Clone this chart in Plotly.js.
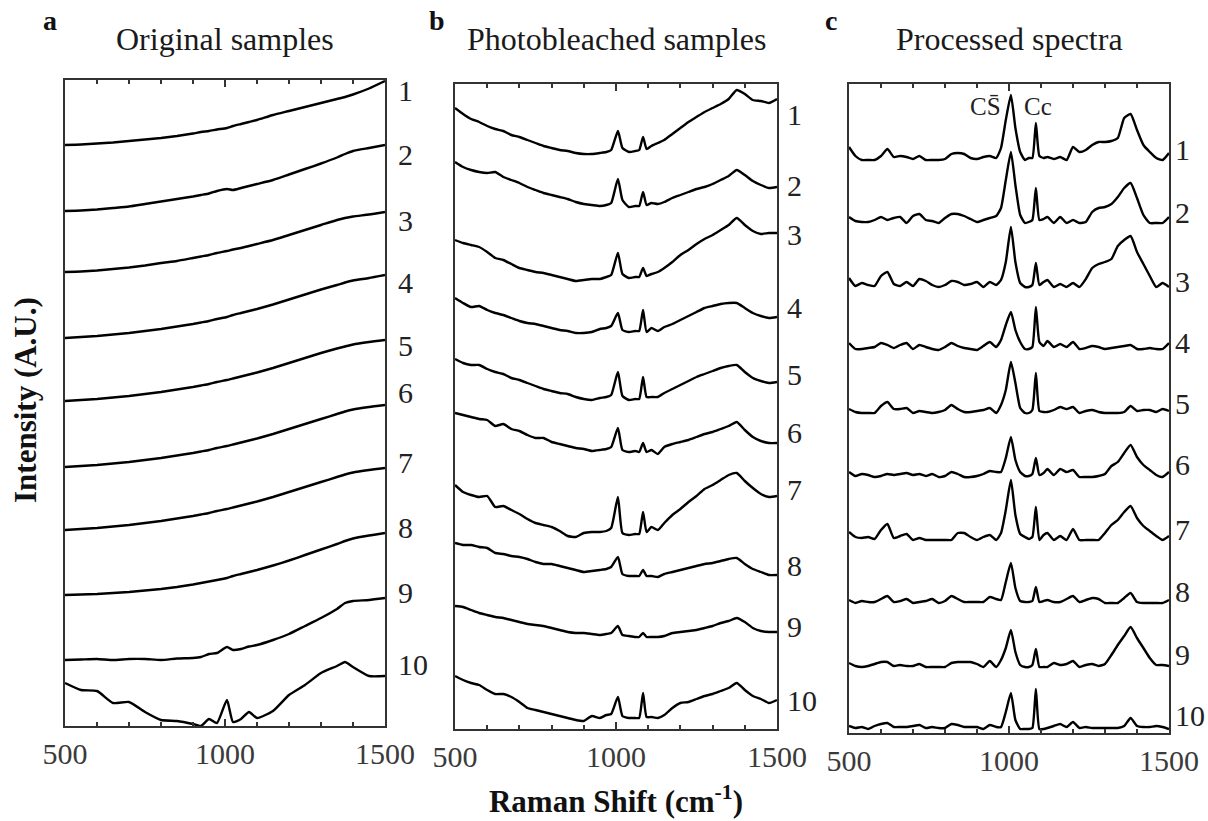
<!DOCTYPE html>
<html>
<head>
<meta charset="utf-8">
<script src="https://cdn.plot.ly/plotly-3.0.1.min.js"></script>
<style>html,body{margin:0;padding:0;background:#fff;}#chart{width:1208px;height:821px;}</style>
</head>
<body>
<div id="chart"></div>
<script>
// ---------- DATA ----------
// Raman shift grids (cm-1)
const xA = [500,550,600,650,700,750,800,850,900,925,950,975,1006,1025,1050,1075,1100,1150,1200,1250,1300,1350,1375,1400,1450,1500];
const xB = [500,525,550,575,600,625,650,675,700,725,750,775,800,825,850,875,900,925,950,970,985,1006,1020,1040,1060,1072,1084,1095,1110,1130,1150,1175,1200,1225,1250,1275,1300,1325,1350,1375,1400,1425,1450,1475,1500];
const xC = [500,520,540,560,580,600,620,640,660,680,700,720,740,760,780,800,820,840,860,880,900,920,940,960,
            975,990,1006,1020,1035,1050,1062,1073,1084,1095,1108,1120,
            1140,1160,1180,1200,1220,1240,1260,1280,1300,1320,1340,1360,1380,1400,1420,1440,1460,1480,1500];

// a: original samples (stacked intensity, A.U.)
const a1 = [582,582.5,583.5,584.5,586,587.5,589,591,593.5,595,596,597.5,599,601,603,605,607,612,616,620,624,628,630,632.5,638.5,646];
const a2 = [516,516.5,517.5,519,520.5,523,525.5,528,530.5,532,533.5,536,538,537,539,541,543,547,552.5,558,563.5,569.5,573,576,579,582];
const a3 = [455,455.5,456.5,458,459.5,461.5,464,466,469,470.5,472,474,476,477.5,479,481,483,487,492,497,502,507,509,510.5,512.5,515];
const a4 = [389,390,391,392.5,394,396,398,400.5,403,404.5,406,408,410,412,414,416,418,422.5,427.5,432.5,437.5,442,444.5,446.5,449,452];
const a5 = [326,327,328,329.5,331,333,335,337.5,340,341.5,343,345,347,348.5,350.5,352.5,354.5,359,364,369,374,378.5,380.5,382.5,385,387];
const a6 = [260,261,262,263.5,265,267,269,271.5,274,275.5,277,279,281,282.5,284.5,286.5,288.5,293,298,303,308,313,315.5,317.5,320,322];
const a7 = [197,198,199,200.5,202,204,206,208.5,211,212.5,214,216,218,219.5,221.5,223.5,225.5,230,235,240,245,250,252.5,254.5,257,259];
const a8 = [132,132.5,133,134,135,136.5,138,140,142.5,144,145.5,147,149,151,153,155,157,161.5,166.5,172,177.5,183,186,188.5,191.5,194];
const a9 = [67,67.5,68,67,68,68,67,68.5,69,70,73,74,80,77,78,80.5,82,87,93,101,109,118,124,126,127,129];
const a10 = [44,37,36,24,25,15,7,6,3,1,8,4,27,5,8,15,9,16,32,42,54,61,65,60,51,51];

// b: photobleached samples
const b1 = [619,613,608,605,601,598,596,592,590,587,584,581,579,577,576,574,573,573,574,575,577,596,579,575,576,577,590,578,581,584,587,593,599,605,610,615,619,623,628,637,633,627,626,624,628];
const b2 = [565,560,557,555,554,555,550,547,544,540,537,534,532,530,528,525,523,522,521,522,524,548,527,520,521,521,535,522,524,523,525,529,532,535,538,540,543,547,551,557,552,546,542,539,540];
const b3 = [487,484,482,480,475,469,467,463,459,457,455,454,452,450,448,446,447,448,448,450,452,474,453,449,450,450,459,451,453,455,459,465,472,477,483,488,492,497,502,509,502,496,493,494,494];
const b4 = [429,424,420,421,417,414,412,409,406,404,403,401,399,397,396,394,394,395,398,399,401,414,397,395,396,396,417,395,399,396,400,403,407,411,415,419,421,423,424,424,419,414,411,409,410];
const b5 = [368,364,362,362,358,355,353,349,347,344,341,338,336,334,333,330,328,327,329,330,332,355,331,327,328,328,350,330,330,330,334,338,342,346,350,353,356,359,361,362,355,349,346,344,345];
const b6 = [314,312,310,308,307,301,303,298,296,292,289,289,285,283,281,279,278,276,277,278,280,299,277,275,276,275,284,275,277,273,280,283,285,287,290,293,295,298,301,305,297,290,286,284,284];
const b7 = [242,235,232,230,231,220,221,217,213,208,204,202,200,196,191,190,194,195,195,196,199,230,194,192,193,193,215,195,200,197,204,212,218,225,231,238,242,247,252,254,246,239,233,230,231];
const b8 = [184,182,182,180,179,174,173,171,170,168,165,163,163,161,159,157,155,156,157,158,160,170,153,151,151,151,157,151,151,150,153,155,157,159,161,163,164,166,168,169,163,158,155,152,152];
const b9 = [121,120,117,114,112,110,109,107,105,103,102,101,99,97,95,94,94,93,92,93,94,101,92,91,90,90,94,90,90,90,91,94,95,96,97,99,101,104,106,109,105,99,96,95,95];
const b10 = [51,47,44,42,37,33,33,30,25,19,17,15,13,11,9,7,6,11,9,12,13,30,11,9,9,9,34,10,10,9,12,19,24,25,28,31,33,36,39,44,37,31,28,24,27];

// c: processed spectra
const c1 = [583,574,570,570,570,574,581,573,574,573,571,574,570,570,570,571,576,577,576,572,571,573,574,572,
            582,610,635,602,578,570,572,572,607,574,572,573,
            571,573,570,583,578,580,585,588,588,589,592,612,616,600,585,578,572,570,577];
const c2 = [513,509,508,508,510,513,510,512,513,507,514,516,510,509,507,512,516,516,514,511,508,510,512,514,
            522,550,578,545,515,507,508,510,542,510,511,513,
            507,513,507,510,507,508,518,522,523,526,533,542,547,532,515,507,507,507,513];
const c3 = [452,444,447,445,444,454,458,446,444,448,444,451,449,445,443,445,449,448,445,446,448,443,448,445,
            450,468,503,468,447,443,443,445,467,445,448,450,
            443,446,443,447,443,451,462,466,468,471,484,490,494,478,466,454,443,447,443];
const c4 = [387,381,381,382,383,387,385,382,385,387,381,385,383,381,380,383,387,384,382,381,380,384,388,383,
            390,405,418,400,388,381,381,383,423,388,384,389,
            383,386,383,388,381,382,384,383,381,382,383,384,385,381,381,382,381,381,387];
const c5 = [321,318,317,317,317,324,328,321,321,322,317,319,318,317,318,320,325,321,318,318,319,320,322,317,
            325,340,368,347,322,317,317,320,357,319,318,318,
            320,323,321,323,317,319,320,318,317,317,317,318,324,319,320,320,318,321,319];
const c6 = [258,254,256,255,253,254,256,255,256,257,255,256,254,256,253,254,258,256,253,253,254,256,259,258,
            258,272,293,270,258,254,254,256,272,255,257,261,
            255,261,258,260,253,253,253,254,256,264,268,277,285,273,265,260,255,253,258];
const c7 = [198,193,192,193,191,200,206,192,194,196,190,192,190,190,190,190,190,197,197,193,190,193,195,190,
            197,220,250,215,196,193,191,193,223,190,195,197,
            190,194,190,201,190,190,190,190,197,205,210,218,224,212,204,199,194,190,194];
const c8 = [130,127,129,128,128,131,134,128,129,131,127,128,129,131,127,129,134,131,128,128,128,128,133,131,
            130,148,167,142,129,128,128,129,143,128,129,130,
            128,128,131,134,128,130,132,131,127,127,127,132,137,128,127,127,127,127,130];
const c9 = [67,64,63,64,66,68,68,64,65,64,64,66,63,63,63,63,67,68,68,68,66,63,69,63,
            70,82,100,78,65,63,63,65,81,63,63,63,
            67,65,66,69,63,65,66,64,66,75,85,94,103,92,82,72,65,65,64];
const c10 = [4,2,3,1,4,6,7,3,3,3,4,5,2,3,2,2,6,5,3,3,3,1,5,3,
             3,18,37,10,1,1,1,2,41,1,1,2,
             4,6,3,8,2,3,2,2,2,2,2,4,12,4,3,3,4,3,1];

const sampleLabels = ['1','2','3','4','5','6','7','8','9','10'];
const panelTitles = ['Original samples','Photobleached samples','Processed spectra'];
const panelLetters = ['a','b','c'];
const xTickVals = [500,1000,1500];

// ---------- LAYOUT / STYLE ----------
const seriesA = [a1,a2,a3,a4,a5,a6,a7,a8,a9,a10];
const seriesB = [b1,b2,b3,b4,b5,b6,b7,b8,b9,b10];
const seriesC = [c1,c2,c3,c4,c5,c6,c7,c8,c9,c10];

// label vertical positions (A.U., in each panel's axis units)
const labelYA = [636,573,507,445,382,335,265,200,135,63];
const labelYB = [612,542,493,420,353,295,238,162,101,27];
const labelYC = [581,518,449,388,327,266,201,139,76,15];

const serif = '"Liberation Serif", "Times New Roman", serif';
const axisCol = '#333333';
const traces = [];
function addPanel(xs, ys, xa, ya) {
  ys.forEach(function (y) {
    traces.push({x: xs, y: y, xaxis: xa, yaxis: ya, type: 'scatter', mode: 'lines',
      line: {color: '#000000', width: 2.4, shape: 'spline', smoothing: 0.5}, hoverinfo: 'skip'});
  });
}
addPanel(xA, seriesA, 'x', 'y');
addPanel(xB, seriesB, 'x2', 'y2');
addPanel(xC, seriesC, 'x3', 'y3');

function xaxisDef(domain, anchor) {
  return {
    domain: domain, anchor: anchor, range: [500, 1500],
    tickmode: 'array', tickvals: xTickVals,
    ticks: 'inside', ticklen: 7, tickwidth: 2, tickcolor: axisCol,
    minor: {tickmode: 'linear', tick0: 500, dtick: 100, ticks: 'inside', ticklen: 4, tickwidth: 2, tickcolor: axisCol},
    showline: true, linecolor: axisCol, linewidth: 2, mirror: 'ticks',
    showgrid: false, zeroline: false,
    tickfont: {family: serif, size: 30, color: '#3a3a3a'},
    ticklabelstandoff: 0, fixedrange: true
  };
}
function yaxisDef(domain, anchor, range) {
  return {
    domain: domain, anchor: anchor, range: range,
    showline: true, linecolor: axisCol, linewidth: 2, mirror: true,
    ticks: '', showticklabels: false, showgrid: false, zeroline: false, fixedrange: true
  };
}

const W = 1208, H = 821;
const annotations = [];
const panelX = [[65, 385], [455, 777], [849, 1169]];
panelTitles.forEach(function (t, i) {
  annotations.push({text: t, xref: 'paper', yref: 'paper',
    x: ((panelX[i][0] + panelX[i][1]) / 2) / W, y: 1 - 39 / H,
    xanchor: 'center', yanchor: 'middle', showarrow: false,
    font: {family: serif, size: 32, color: '#1a1a1a'}});
});
const letterX = [50, 437, 831];
panelLetters.forEach(function (t, i) {
  annotations.push({text: '<b>' + t + '</b>', xref: 'paper', yref: 'paper',
    x: letterX[i] / W, y: 1 - 20 / H, xanchor: 'center', yanchor: 'middle', showarrow: false,
    font: {family: serif, size: 28, color: '#111'}});
});
function addLabels(labelY, xa, ya, shift) {
  sampleLabels.forEach(function (t, i) {
    annotations.push({text: t, xref: xa + ' domain', yref: ya, x: 1, y: labelY[i],
      xanchor: 'left', yanchor: 'middle', xshift: shift, showarrow: false,
      font: {family: serif, size: 30, color: '#222'}});
  });
}
addLabels(labelYA, 'x', 'y', 11);
addLabels(labelYB, 'x2', 'y2', 8);
addLabels(labelYC, 'x3', 'y3', 4);

annotations.push({text: 'CS\u0304', xref: 'x3', yref: 'y3', x: 980, y: 623,
  xanchor: 'right', yanchor: 'middle', showarrow: false,
  font: {family: serif, size: 25, color: '#222'}});
annotations.push({text: 'Cc', xref: 'x3', yref: 'y3', x: 1042, y: 623,
  xanchor: 'left', yanchor: 'middle', showarrow: false,
  font: {family: serif, size: 25, color: '#222'}});

annotations.push({text: '<b>Intensity (A.U.)</b>', xref: 'paper', yref: 'paper',
  x: 25 / W, y: 1 - 400 / H, xanchor: 'center', yanchor: 'middle', textangle: -90, showarrow: false,
  font: {family: serif, size: 31, color: '#111'}});

const xa2 = xaxisDef([455 / W, 777 / W], 'y2');
xa2.title = {text: '<b>Raman Shift (cm<sup>-1</sup>)</b>', font: {family: serif, size: 31, color: '#111'}, standoff: 18};

const layout = {
  width: W, height: H, margin: {l: 0, r: 0, t: 0, b: 0},
  paper_bgcolor: '#ffffff', plot_bgcolor: '#ffffff', showlegend: false,
  xaxis: xaxisDef([65 / W, 385 / W], 'y'),
  yaxis: yaxisDef([1 - 726 / H, 1 - 80 / H], 'x', [1, 647]),
  xaxis2: xa2,
  yaxis2: yaxisDef([1 - 729 / H, 1 - 84 / H], 'x2', [-2, 643]),
  xaxis3: xaxisDef([849 / W, 1169 / W], 'y3'),
  yaxis3: yaxisDef([1 - 733 / H, 1 - 84 / H], 'x3', [-3, 646]),
  annotations: annotations
};
Plotly.newPlot('chart', traces, layout, {displayModeBar: false, staticPlot: true});
</script>
</body>
</html>
